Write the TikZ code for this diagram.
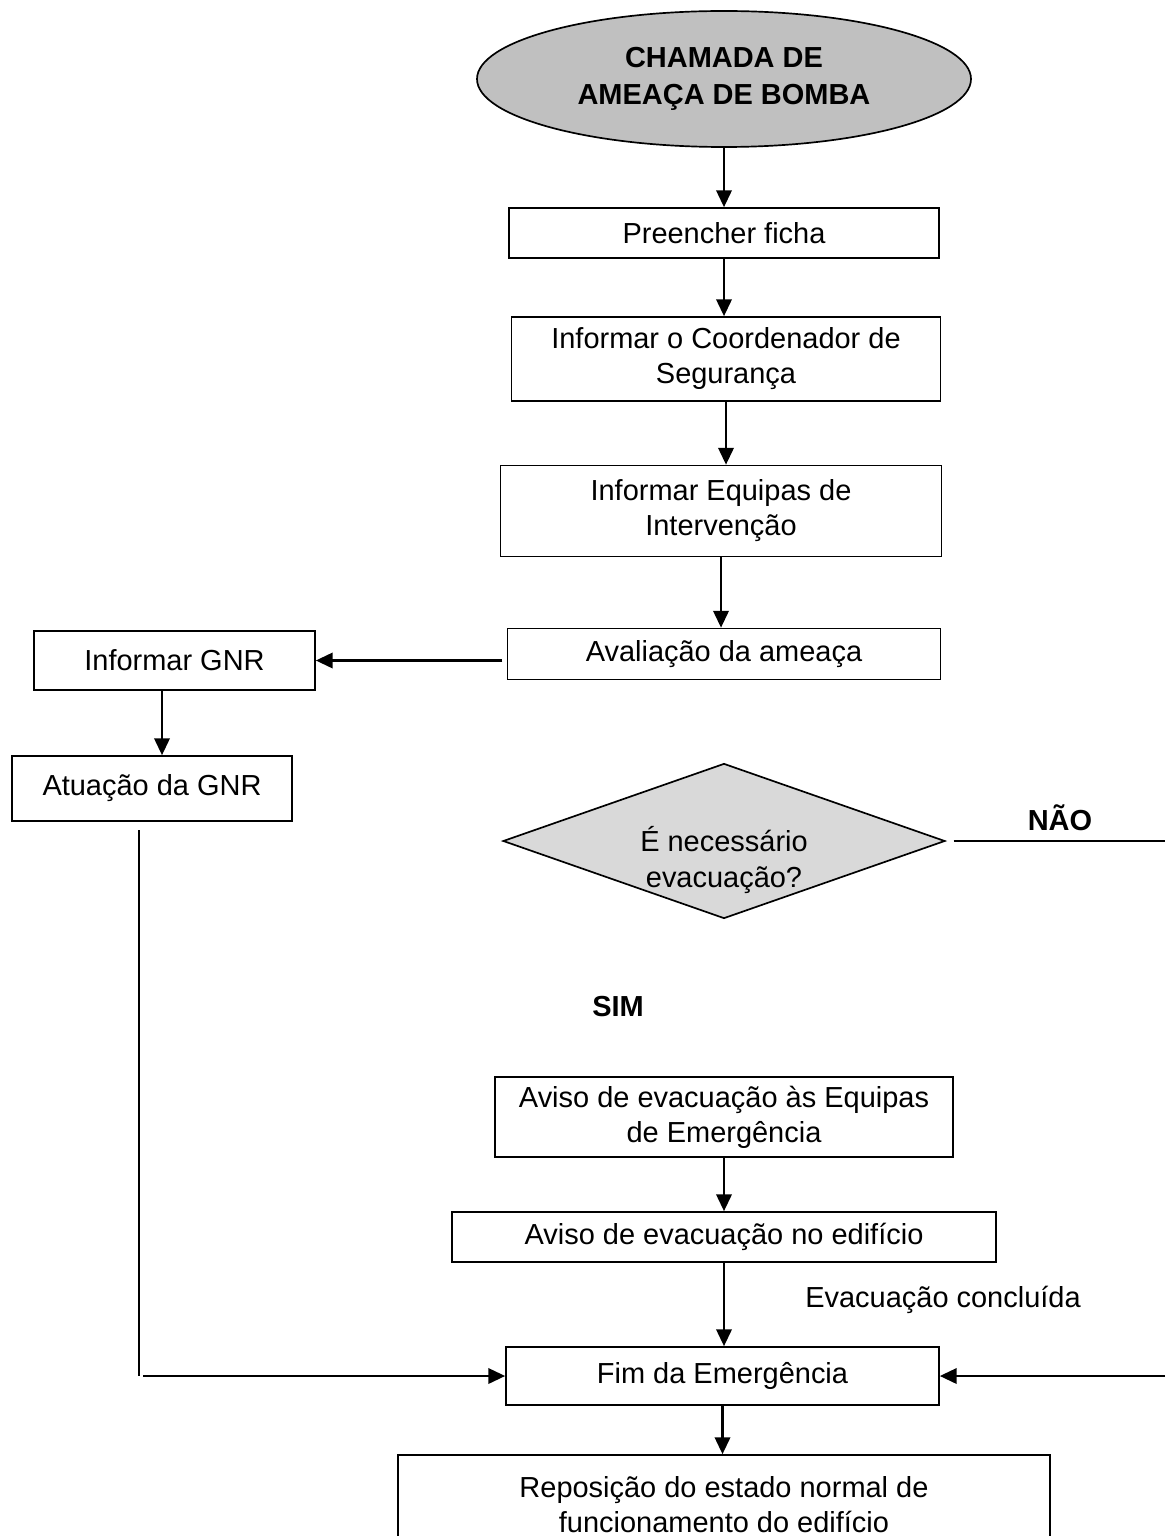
\documentclass[tikz,border=0pt]{standalone}
\usepackage{fontspec}
\setmainfont{Liberation Sans}
\usetikzlibrary{shapes.geometric,arrows.meta}
\definecolor{cinzaA}{RGB}{192,192,192}
\definecolor{cinzaB}{RGB}{217,217,217}
\newcommand{\pxu}{0.025cm}
\begin{document}
\begin{tikzpicture}[x=\pxu,y=-\pxu,
  every node/.style={font=\fontsize{20.6}{24.9}\selectfont,inner sep=0pt,align=center},
  passo/.style 2 args={draw,line width=1.2pt,minimum width={#1*\pxu},minimum height={#2*\pxu}},
  inicio/.style={ellipse,draw,fill=cinzaA,line width=1.2pt,minimum width={494*\pxu},
    minimum height={136*\pxu},font=\fontsize{20.6}{26}\selectfont\bfseries},
  decisao/.style={diamond,draw,fill=cinzaB,line width=1.2pt,minimum width={442*\pxu},
    minimum height={155*\pxu}},
  rotulo/.style={font=\fontsize{20.6}{24.9}\selectfont\bfseries},
  seta/.style={-{Triangle[length=12pt,width=11pt]},line width=1.6pt},
  linha/.style={line width=1.4pt}]
\useasboundingbox (0,0) rectangle (1165,1536);
\node[inicio] (chamada) at (724,79) {CHAMADA DE\\AMEAÇA DE BOMBA};
\node[passo={430}{50}] (ficha) at (724,233) {Preencher ficha};
\node[passo={429}{84}] (coord) at (726,359) {Informar o Coordenador de\\Segurança};
\node[passo={441}{91}] (equipas) at (721,511) {Informar Equipas de\\Intervenção};
\node[passo={433}{51}] (avalia) at (724,654) {Avaliação da ameaça};
\node[passo={281}{59}] (gnr) at (174.5,660.5) {Informar GNR};
\node[passo={280}{65}] (atua) at (152,788.5) {Atuação da GNR};
\node[decisao] (evac) at (724,841) {};
\node (evactxt) at (724,860) {É necessário\\evacuação?};
\node[rotulo] (nao) at (1060,818) {NÃO};
\node[rotulo] (sim) at (618,1007) {SIM};
\node[passo={458}{80}] (avisoeq) at (724,1117) {Aviso de evacuação às Equipas\\de Emergência};
\node[passo={544}{50}] (avisoed) at (724,1237) {Aviso de evacuação no edifício};
\node (concl) at (943,1300) {Evacuação concluída};
\node[passo={433}{58}] (fim) at (722.5,1376) {Fim da Emergência};
\node[passo={652}{100}] (repos) at (724,1505) {Reposição do estado normal de\\funcionamento do edifício};
\coordinate (gnrbaixo) at (139,830);
\coordinate (direita) at (1165,1376);
\coordinate (naofim) at (1165,841);
\foreach \a/\b in {chamada/ficha,ficha/coord,coord/equipas,equipas/avalia,avisoeq/avisoed,avisoed/fim,fim/repos}
  \draw[seta] (\a.south) -- (\a.south |- \b.north);
\draw[seta,shorten <=3pt] (avalia.west |- gnr.east) -- (gnr.east);
\path (gnr.south) ++(-12.5,0) coordinate (g1);
\draw[seta] (g1) -- (g1 |- atua.north);
\draw[line width=1pt] (gnrbaixo) -- (gnrbaixo |- fim.west);
\draw[seta,shorten <=3pt] (gnrbaixo |- fim.west) -- (fim.west);
\draw[seta] (direita) -- (fim.east);
\draw[linha,shorten <=5.5pt] (evac.east) -- (naofim);
\end{tikzpicture}
\end{document}
